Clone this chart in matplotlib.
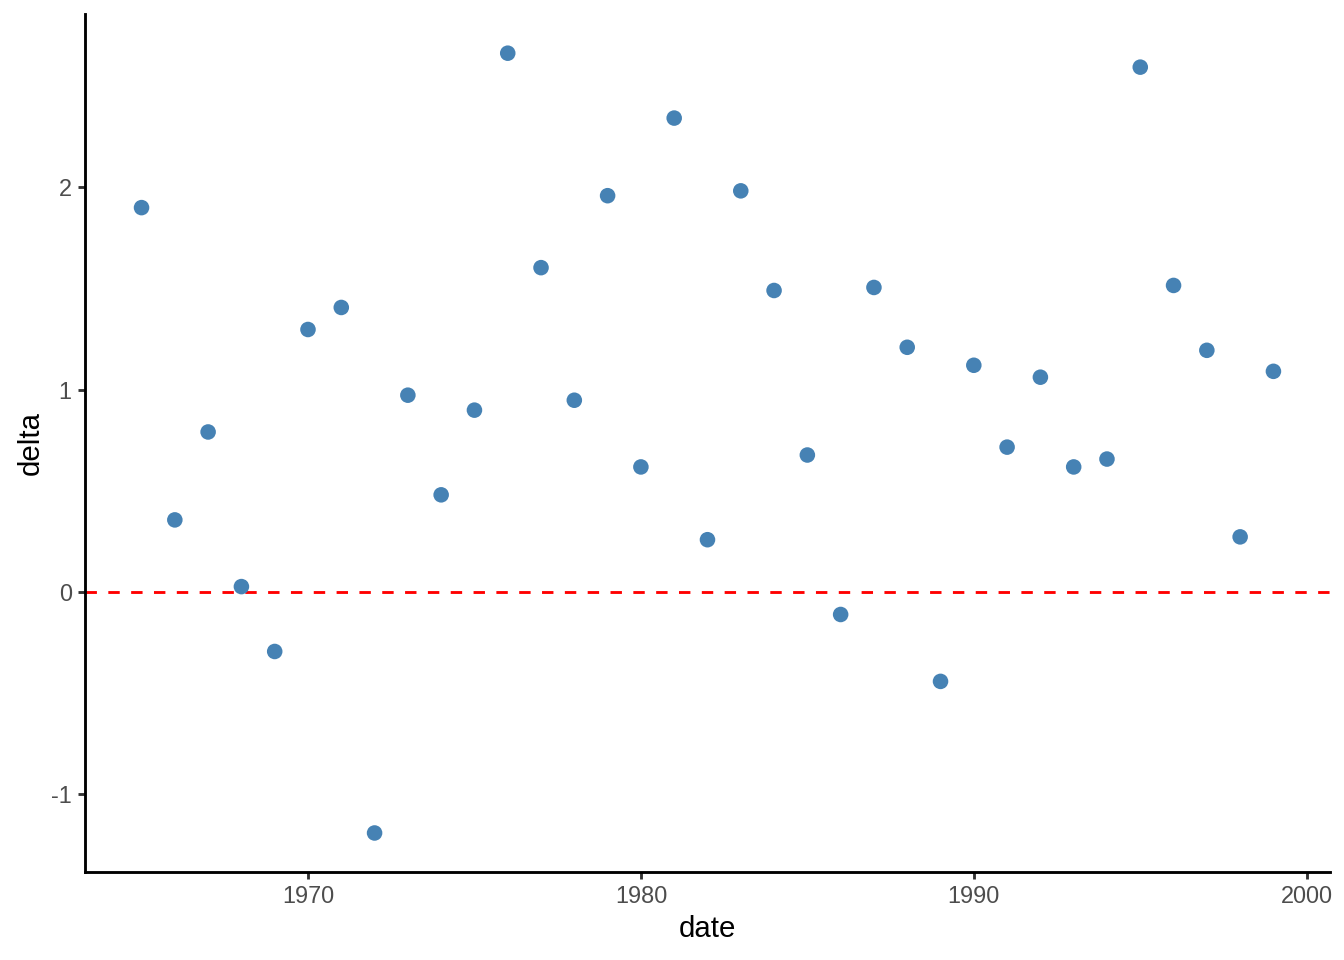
import matplotlib
matplotlib.use("Agg")
import matplotlib.pyplot as plt

years = list(range(1965, 2000))
delta = [
    1.90, 0.355, 0.79, 0.025, -0.296, 1.297, 1.406, -1.194, 0.972, 0.479,
    0.898, 2.664, 1.603, 0.947, 1.959, 0.617, 2.343, 0.257, 1.983, 1.49,
    0.676, -0.113, 1.505, 1.209, -0.444, 1.12, 0.715, 1.061, 0.617, 0.656,
    2.595, 1.515, 1.194, 0.271, 1.09,
]
x_ticks = [1970, 1980, 1990, 2000]
y_ticks = [-1, 0, 1, 2]

plt.rcParams["font.family"] = ["Liberation Sans", "DejaVu Sans"]
plt.rcParams["axes.unicode_minus"] = False

fig = plt.figure(figsize=(7, 5), dpi=192)
ax = fig.add_axes([0.0632, 0.0917, 0.9264, 0.8935])

ax.axhline(0, color="red", linestyle=(0, (4, 4)), linewidth=1.07, zorder=1)
ax.scatter(years, delta, s=34, color="#4682B4", edgecolors="none", zorder=2)

# ggplot-style 5% expansion
xr = max(years) - min(years)
ax.set_xlim(min(years) - 0.05 * xr, max(years) + 0.05 * xr)
yr = max(delta) - min(delta)
ax.set_ylim(min(delta) - 0.05 * yr, max(delta) + 0.05 * yr)

ax.set_xticks(x_ticks)
ax.set_yticks(y_ticks)
ax.tick_params(labelsize=8.8, labelcolor="#4D4D4D", color="#333333",
               length=2.75, width=1.07, pad=2.2)
ax.set_xlabel("date", fontsize=11, labelpad=2.5)
ax.set_ylabel("delta", fontsize=11, labelpad=2.2)

for side in ["top", "right"]:
    ax.spines[side].set_visible(False)
for side in ["left", "bottom"]:
    ax.spines[side].set_linewidth(1.07)
    ax.spines[side].set_color("black")

fig.savefig("out.png", dpi=192)
